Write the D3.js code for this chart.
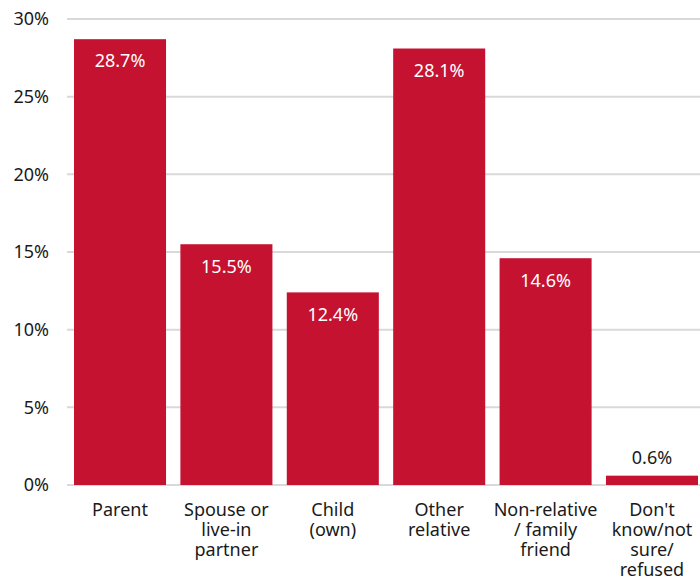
<!DOCTYPE html>
<html>
<head>
<meta charset="utf-8">
<script src="https://cdn.jsdelivr.net/npm/d3@7"></script>
<style>
  body { margin: 0; background: #fff; }
  svg text { font-family: "Noto Sans", sans-serif; }
</style>
</head>
<body>
<div id="chart"></div>
<script>
// Chart data
const categories = ["Parent", "Spouse or live-in partner", "Child (own)", "Other relative", "Non-relative / family friend", "Don't know/not sure/ refused"];
const categoryLines = [["Parent"], ["Spouse or", "live-in", "partner"], ["Child", "(own)"], ["Other", "relative"], ["Non-relative", "/ family", "friend"], ["Don't", "know/not", "sure/", "refused"]];
const values = [28.7, 15.5, 12.4, 28.1, 14.6, 0.6];
const yTicks = [0, 5, 10, 15, 20, 25, 30];

const width = 700, height = 584;
const svg = d3.select("#chart").append("svg")
    .attr("width", width)
    .attr("height", height);

const x = d3.scaleBand().domain(categories).range([74, 698]).paddingInner(0.135).paddingOuter(0);
const y = d3.scaleLinear().domain([0, 30]).range([485, 19]);

// Gridlines
svg.append("g")
    .selectAll("line")
    .data(yTicks)
    .enter().append("line")
    .attr("x1", 67).attr("x2", 700)
    .attr("y1", d => y(d)).attr("y2", d => y(d))
    .attr("stroke", "#d9d9d9")
    .attr("stroke-width", 2);

// Y tick labels
svg.append("g")
    .selectAll("text")
    .data(yTicks)
    .enter().append("text")
    .attr("x", 49)
    .attr("y", d => y(d))
    .attr("dy", "0.35em")
    .attr("text-anchor", "end")
    .attr("font-size", 18)
    .attr("fill", "#1a1a1a")
    .text(d => d + "%");

// Bars
svg.append("g")
    .selectAll("rect")
    .data(values)
    .enter().append("rect")
    .attr("x", (d, i) => x(categories[i]))
    .attr("y", d => y(d))
    .attr("width", x.bandwidth())
    .attr("height", d => y(0) - y(d))
    .attr("fill", "#c41230");

// Value labels
svg.append("g")
    .selectAll("text")
    .data(values)
    .enter().append("text")
    .attr("x", (d, i) => x(categories[i]) + x.bandwidth() / 2)
    .attr("y", d => d > 3 ? y(d) + 22 : y(d) - 18)
    .attr("dy", "0.35em")
    .attr("text-anchor", "middle")
    .attr("font-size", 18)
    .attr("fill", d => d > 3 ? "#fff" : "#1a1a1a")
    .text(d => d.toFixed(1) + "%");

// Category labels
const cat = svg.append("g")
    .selectAll("text")
    .data(categories)
    .enter().append("text")
    .attr("x", d => x(d) + x.bandwidth() / 2)
    .attr("y", 510)
    .attr("text-anchor", "middle")
    .attr("font-size", 18)
    .attr("fill", "#1a1a1a");

cat.selectAll("tspan")
    .data((d, i) => categoryLines[i])
    .enter().append("tspan")
    .attr("x", function() { return d3.select(this.parentNode).attr("x"); })
    .attr("y", (d, i) => 510 + i * 20)
    .attr("dy", "0.35em")
    .text(d => d);
</script>
</body>
</html>
